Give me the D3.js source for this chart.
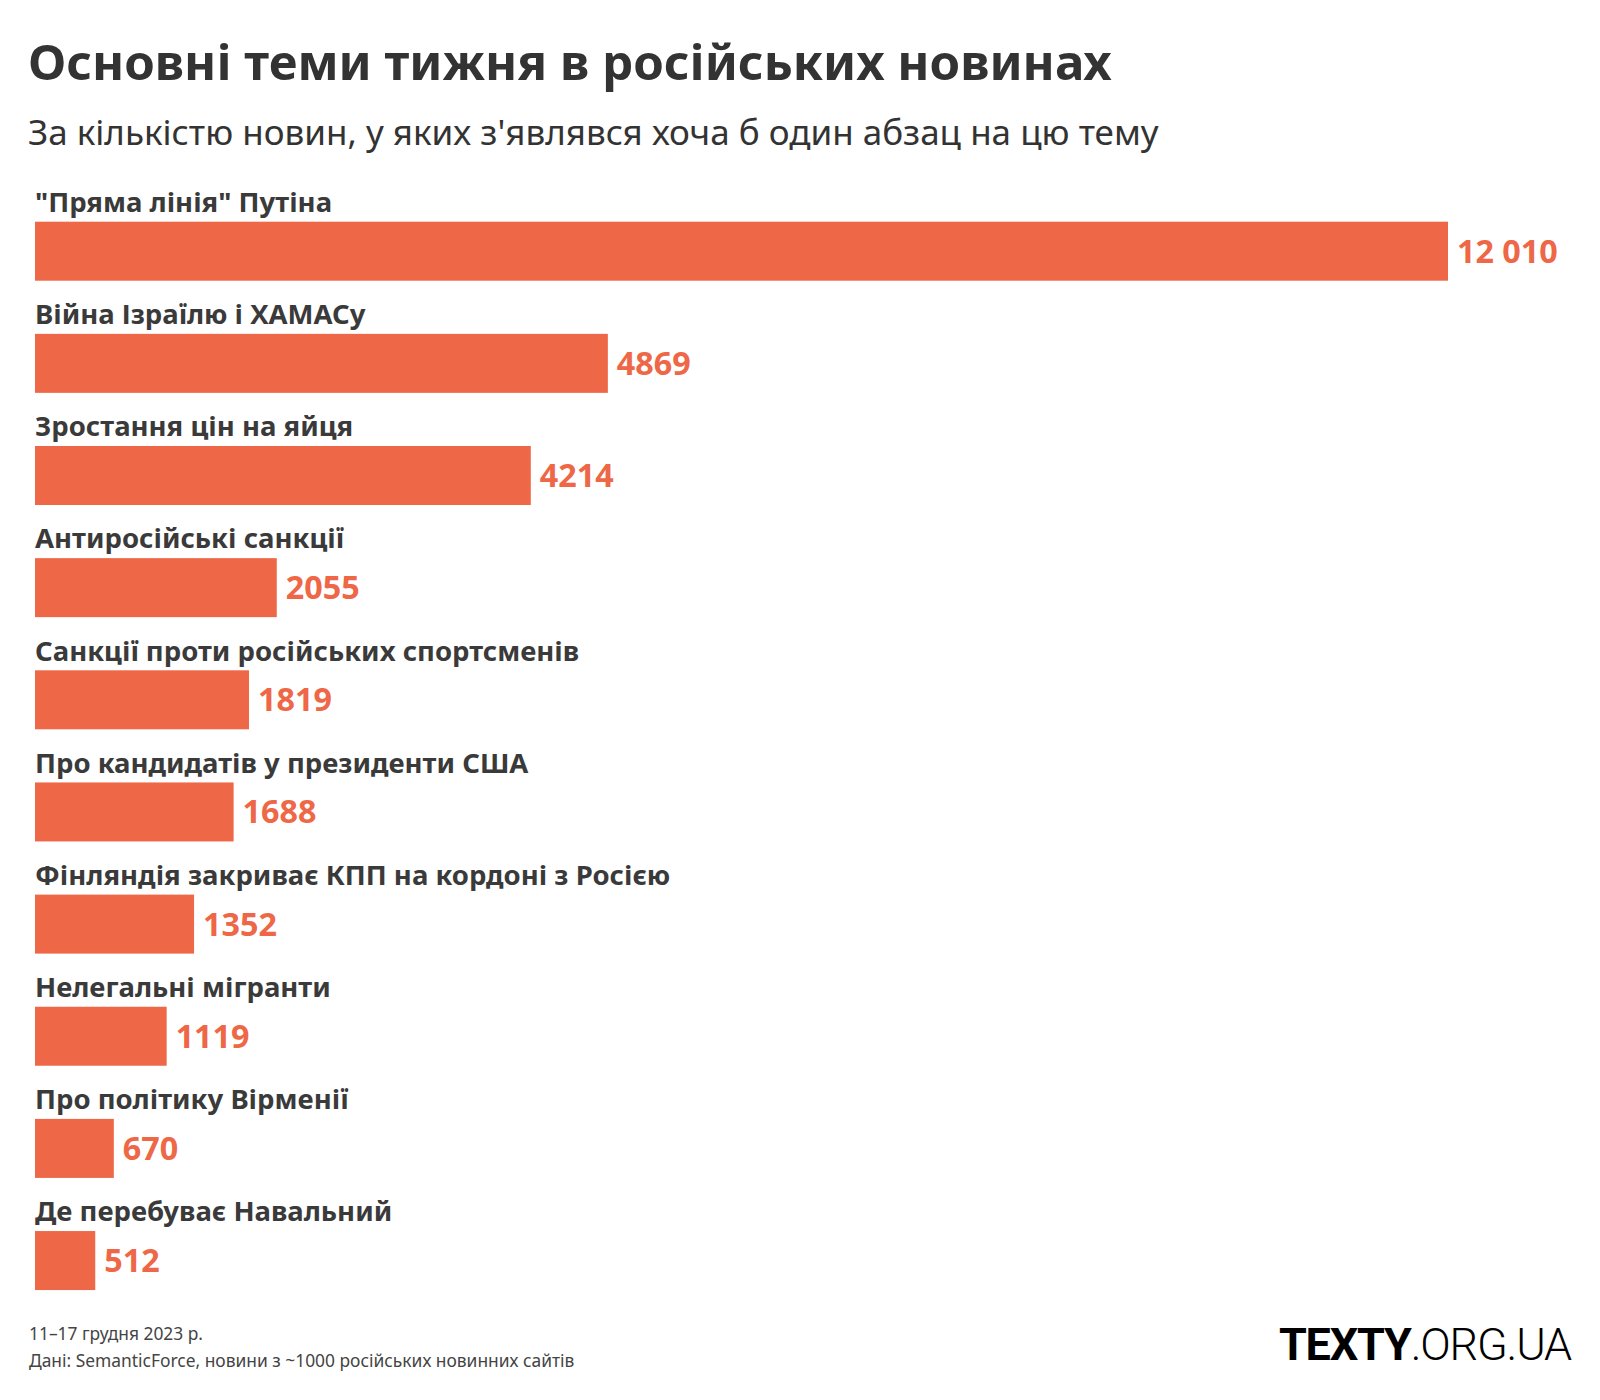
<!DOCTYPE html>
<html>
<head>
<meta charset="utf-8">
<script src="https://cdn.jsdelivr.net/npm/d3@7"></script>
<style>
  html, body { margin: 0; padding: 0; background: #fff; }
  svg { display: block; }
</style>
</head>
<body>
<svg id="chart" width="1600" height="1400"></svg>
<script>
const categories = [
  '"Пряма лінія" Путіна',
  'Війна Ізраїлю і ХАМАСу',
  'Зростання цін на яйця',
  'Антиросійські санкції',
  'Санкції проти російських спортсменів',
  'Про кандидатів у президенти США',
  'Фінляндія закриває КПП на кордоні з Росією',
  'Нелегальні мігранти',
  'Про політику Вірменії',
  'Де перебуває Навальний'
];
const values = [12010, 4869, 4214, 2055, 1819, 1688, 1352, 1119, 670, 512];
const titleText = 'Основні теми тижня в російських новинах';
const subtitleText = "За кількістю новин, у яких з'являвся хоча б один абзац на цю тему";
const footerLines = ['11–17 грудня 2023 р.', 'Дані: SemanticForce, новини з ~1000 російських новинних сайтів'];

const FONT = '"Noto Sans", "Open Sans", sans-serif';
const BAR = '#EE6747';
const DARK = '#3a3a3a';

const svg = d3.select('#chart');
const data = categories.map((c, i) => ({ c, v: values[i] }));

const x = d3.scaleLinear().domain([0, 12010]).range([35, 1448]);
const y = d3.scaleBand().domain(categories).range([188, 1309.5]).paddingInner(0);
const barOffset = 33.7, barH = 59;

const fmt = v => v >= 10000 ? d3.format(',')(v).replace(/,/g, ' ') : String(v);

// Title & subtitle
svg.append('text').attr('x', 28).attr('y', 80)
  .attr('font-family', FONT).attr('font-weight', 700).attr('font-size', 49.2)
  .attr('fill', '#333').text(titleText);
svg.append('text').attr('x', 28).attr('y', 145)
  .attr('font-family', FONT).attr('font-weight', 400).attr('font-size', 35)
  .attr('fill', '#333').text(subtitleText);

const rows = svg.append('g').selectAll('g').data(data).join('g');

rows.append('text')
  .attr('x', 35).attr('y', d => y(d.c) + 24)
  .attr('font-family', FONT).attr('font-weight', 700).attr('font-size', 27.5)
  .attr('fill', DARK).text(d => d.c);

rows.append('rect')
  .attr('x', x(0)).attr('y', d => y(d.c) + barOffset)
  .attr('width', d => x(d.v) - x(0)).attr('height', barH)
  .attr('fill', BAR);

rows.append('text')
  .attr('x', d => x(d.v) + 9).attr('y', d => y(d.c) + barOffset + 41)
  .attr('font-family', FONT).attr('font-weight', 700).attr('font-size', 32.3)
  .attr('fill', BAR).text(d => fmt(d.v));

// Footer
svg.append('g').selectAll('text').data(footerLines).join('text')
  .attr('x', 29).attr('y', (d, i) => 1340 + i * 26.7)
  .attr('font-family', FONT).attr('font-weight', 400).attr('font-size', 17.4)
  .attr('fill', '#444').text(d => d);

// Logo
const logo = svg.append('text').attr('x', 1571).attr('y', 1360)
  .attr('text-anchor', 'end').attr('font-family', 'Roboto, sans-serif')
  .attr('font-size', 45).attr('letter-spacing', -1.2).attr('fill', '#000');
logo.append('tspan').attr('font-weight', 700).text('TEXTY');
logo.append('tspan').attr('font-weight', 300).text('.ORG.UA');
</script>
</body>
</html>
